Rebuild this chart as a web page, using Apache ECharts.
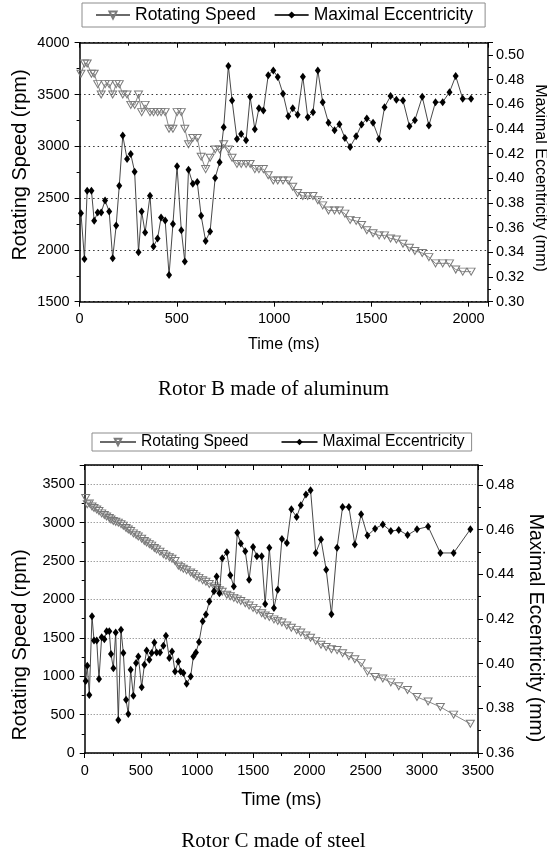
<!DOCTYPE html>
<html><head><meta charset="utf-8">
<script src="https://cdn.jsdelivr.net/npm/echarts@6/dist/echarts.min.js"></script>
<style>html,body{margin:0;padding:0;background:#fff}#c{width:547px;height:861px}</style>
</head><body><div id="c"></div>
<script>
// ---- Rotor B (aluminum) ----
const timeB = [7,25,39,61,75,93,111,131,152,170,188,204,222,244,263,283,303,319,337,362,380,401,419,440,460,480,501,523,541,560,582,605,625,648,671,697,720,741,765,784,809,831,856,877,901,922,945,970,996,1019,1046,1073,1096,1121,1148,1173,1200,1225,1250,1280,1311,1336,1364,1391,1422,1450,1477,1509,1540,1568,1599,1629,1663,1696,1724,1762,1796,1830,1867,1902,1934,1970,2013];
const speedB = [3700,3800,3800,3700,3700,3600,3500,3600,3600,3500,3600,3600,3500,3500,3400,3400,3500,3330,3400,3330,3330,3330,3330,3330,3170,3170,3330,3330,3170,3020,3080,3080,2900,2780,2890,2970,2970,3020,2970,2890,2830,2830,2830,2830,2780,2780,2780,2720,2670,2670,2670,2670,2610,2550,2520,2520,2520,2480,2430,2380,2380,2380,2350,2290,2280,2240,2190,2160,2140,2140,2110,2100,2060,2020,1990,1970,1930,1870,1870,1870,1810,1790,1790];
const eccB = [0.3718,0.3347,0.3900,0.3900,0.3656,0.3724,0.3724,0.3821,0.3732,0.3352,0.3618,0.3940,0.4347,0.4157,0.4198,0.4054,0.3401,0.3732,0.3561,0.3859,0.3447,0.3512,0.3683,0.3659,0.3217,0.3629,0.4098,0.3580,0.3325,0.4070,0.3957,0.3970,0.3696,0.3493,0.3569,0.4003,0.4130,0.4415,0.4911,0.4631,0.4320,0.4360,0.4309,0.4661,0.4398,0.4569,0.4550,0.4837,0.4875,0.4821,0.4686,0.4504,0.4569,0.4515,0.4824,0.4496,0.4537,0.4875,0.4618,0.4450,0.4390,0.4439,0.4328,0.4255,0.4341,0.4436,0.4485,0.4450,0.4320,0.4577,0.4667,0.4637,0.4631,0.4423,0.4472,0.4661,0.4428,0.4618,0.4618,0.4699,0.4829,0.4645,0.4645];

// ---- Rotor C (steel) ----
const timeC = [9,23,41,65,83,107,127,151,175,195,219,234,255,276,299,323,344,368,388,409,433,457,477,507,531,551,575,596,620,640,670,700,723,753,777,804,833,854,878,907,943,967,990,1017,1050,1079,1109,1150,1174,1199,1224,1265,1296,1327,1358,1389,1429,1463,1498,1532,1575,1606,1643,1684,1718,1755,1799,1839,1886,1923,1969,2010,2056,2103,2149,2196,2246,2295,2351,2404,2460,2516,2584,2653,2724,2795,2873,2957,3056,3165,3283,3432];
const speedC = [3320,3240,3250,3210,3190,3170,3150,3120,3100,3080,3060,3040,3020,3010,3000,2980,2960,2930,2910,2890,2860,2840,2820,2790,2760,2740,2720,2700,2670,2650,2620,2590,2570,2550,2530,2500,2440,2420,2400,2380,2350,2330,2300,2280,2250,2230,2200,2170,2150,2120,2100,2060,2040,2020,2000,1980,1950,1920,1890,1860,1820,1790,1770,1740,1720,1700,1660,1630,1600,1570,1530,1500,1460,1410,1380,1350,1340,1300,1260,1220,1170,1060,990,970,920,870,820,730,670,600,500,380];
const eccC = [0.3923,0.3991,0.3860,0.4212,0.4104,0.4104,0.3932,0.4119,0.4110,0.4145,0.4145,0.4043,0.3980,0.4140,0.3748,0.4152,0.4048,0.3838,0.3775,0.3973,0.3856,0.4003,0.4032,0.3895,0.3995,0.4059,0.4018,0.4048,0.4095,0.4050,0.4050,0.4080,0.4125,0.4025,0.4055,0.3965,0.4010,0.3965,0.3958,0.3910,0.3943,0.4032,0.4050,0.4097,0.4190,0.4220,0.4279,0.4324,0.4391,0.4316,0.4472,0.4499,0.4396,0.4346,0.4586,0.4538,0.4504,0.4376,0.4523,0.4481,0.4481,0.4267,0.4519,0.4249,0.4331,0.4559,0.4541,0.4692,0.4657,0.4710,0.4758,0.4777,0.4496,0.4556,0.4421,0.4222,0.4519,0.4702,0.4702,0.4534,0.4669,0.4574,0.4605,0.4624,0.4594,0.4599,0.4576,0.4602,0.4614,0.4496,0.4496,0.4602];

const seriesNames = ['Rotating Speed', 'Maximal Eccentricity'];
const timeTitle = 'Time (ms)';
const speedTitle = 'Rotating Speed (rpm)';
const eccTitle = 'Maximal Eccentricity (mm)';
const captionB = 'Rotor B made of aluminum';
const captionC = 'Rotor C made of steel';

const SANS = 'Liberation Sans';
const SERIF = 'Liberation Serif';

function pairs(xs, ys) { return xs.map((x, i) => [x, ys[i]]); }
const plain = v => String(v);

function xAxes(grid, max, tickFont, nameFont, nameGap, showMaxLabel) {
  const common = {
    gridIndex: grid, type: 'value', min: 0, max: max, interval: 500,
    axisLine: { show: true, onZero: false, lineStyle: { color: '#000', width: 1.5 } },
    splitLine: { show: false },
    minorTick: { show: true, splitNumber: 2, length: 3, lineStyle: { color: '#000', width: 1 } }
  };
  return [
    Object.assign({}, common, {
      position: 'bottom',
      axisTick: { show: true, inside: false, length: 5, lineStyle: { color: '#000', width: 1 } },
      axisLabel: { fontFamily: SANS, fontSize: tickFont, color: '#000', margin: 10, showMaxLabel: showMaxLabel, formatter: plain },
      name: timeTitle, nameLocation: 'middle', nameGap: nameGap,
      nameTextStyle: { fontFamily: SANS, fontSize: nameFont, color: '#000' }
    }),
    Object.assign({}, common, {
      position: 'top',
      axisTick: { show: true, inside: true, length: 5, lineStyle: { color: '#000', width: 1 } },
      axisLabel: { show: false }
    })
  ];
}

function yAxes(grid, lmin, lmax, rmin, rmax, tickFont, gridColor, gridDash, showLeftMax) {
  return [
    {
      gridIndex: grid, type: 'value', position: 'left', min: lmin, max: lmax, interval: 500,
      axisLine: { show: true, onZero: false, lineStyle: { color: '#000', width: 1.5 } },
      axisTick: { show: true, inside: false, length: 5, lineStyle: { color: '#000', width: 1 } },
      minorTick: { show: true, splitNumber: 2, length: 3, lineStyle: { color: '#000', width: 1 } },
      axisLabel: { fontFamily: SANS, fontSize: tickFont, color: '#000', margin: 10, showMaxLabel: showLeftMax, formatter: plain },
      splitLine: { show: true, lineStyle: { color: gridColor, width: 1, type: gridDash } }
    },
    {
      gridIndex: grid, type: 'value', position: 'right', min: rmin, max: rmax, interval: 0.02,
      axisLine: { show: true, onZero: false, lineStyle: { color: '#000', width: 1.5 } },
      axisTick: { show: true, inside: false, length: 5, lineStyle: { color: '#000', width: 1 } },
      minorTick: { show: true, splitNumber: 2, length: 3, lineStyle: { color: '#000', width: 1 } },
      axisLabel: { fontFamily: SANS, fontSize: tickFont, color: '#000', margin: 8, showMaxLabel: false,
        formatter: v => v.toFixed(2) },
      splitLine: { show: false }
    }
  ];
}

function speedSeries(xi, yi, data, size) {
  return {
    name: seriesNames[0], type: 'line', xAxisIndex: xi, yAxisIndex: yi, data: data,
    symbol: 'triangle', symbolRotate: 180, symbolSize: size, showAllSymbol: true,
    itemStyle: { color: 'rgba(255,255,255,0)', borderColor: '#7a7a7a', borderWidth: 1 },
    lineStyle: { color: '#6a6a6a', width: 0.8 },
    emphasis: { disabled: true }, z: 2
  };
}
function eccSeries(xi, yi, data, size) {
  return {
    name: seriesNames[1], type: 'line', xAxisIndex: xi, yAxisIndex: yi, data: data,
    symbol: 'diamond', symbolSize: size, showAllSymbol: true,
    itemStyle: { color: '#000', borderColor: '#000', borderWidth: 0 },
    lineStyle: { color: '#333', width: 0.9 },
    emphasis: { disabled: true }, z: 3
  };
}

function vTitle(text, x, y, size, rot) {
  return { type: 'text', x: x, y: y, rotation: rot, z: 10,
    style: { text: text, font: size + 'px "' + SANS + '"', fill: '#000', align: 'center', verticalAlign: 'middle' } };
}

const chart = echarts.init(document.getElementById('c'), null, { renderer: 'canvas' });
chart.setOption({
  animation: false,
  backgroundColor: '#fff',
  textStyle: { fontFamily: SANS },
  grid: [
    { left: 79.6, top: 42.7, width: 408.4, height: 259, containLabel: false },
    { left: 84.7, top: 465, width: 393.3, height: 288, containLabel: false }
  ],
  legend: [
    {
      data: seriesNames, left: 82, top: 3, orient: 'horizontal',
      itemWidth: 34, itemHeight: 9, itemGap: 18,
      padding: [3, 12, 3, 13], borderColor: '#8c8c8c', borderWidth: 1,
      textStyle: { fontFamily: SANS, fontSize: 17.5, color: '#000' },
      selectedMode: false
    },
    {
      data: seriesNames, left: 92, top: 433, orient: 'horizontal',
      itemWidth: 36, itemHeight: 8, itemGap: 32,
      padding: [1, 7, 1, 7], borderColor: '#8c8c8c', borderWidth: 1,
      textStyle: { fontFamily: SANS, fontSize: 15.6, color: '#000' },
      selectedMode: false
    }
  ],
  xAxis: [].concat(
    xAxes(0, 2100, 14.5, 16, 35, false),
    xAxes(1, 3500, 14.5, 18, 38, true)
  ),
  yAxis: [].concat(
    yAxes(0, 1500, 4000, 0.30, 0.51, 14.5, '#333', [1.5, 3], true),
    yAxes(1, 0, 3750, 0.36, 0.489, 14.5, '#777', [1, 2], false)
  ),
  graphic: [
    vTitle(speedTitle, 20.5, 165, 20, Math.PI / 2),
    vTitle(eccTitle, 540, 178, 16, -Math.PI / 2),
    vTitle(speedTitle, 20.5, 645, 20, Math.PI / 2),
    vTitle(eccTitle, 535.5, 628, 19.5, -Math.PI / 2),
    { type: 'text', left: 'center', top: 379, style: { text: captionB, font: '21px "' + SERIF + '"', fill: '#000' } },
    { type: 'text', left: 'center', top: 831, style: { text: captionC, font: '21px "' + SERIF + '"', fill: '#000' } }
  ],
  series: [
    speedSeries(0, 0, pairs(timeB, speedB), [8, 7]),
    eccSeries(0, 1, pairs(timeB, eccB), [6, 8]),
    speedSeries(2, 2, pairs(timeC, speedC), [8, 7]),
    eccSeries(2, 3, pairs(timeC, eccC), [6, 8])
  ]
});
</script>
</body></html>
